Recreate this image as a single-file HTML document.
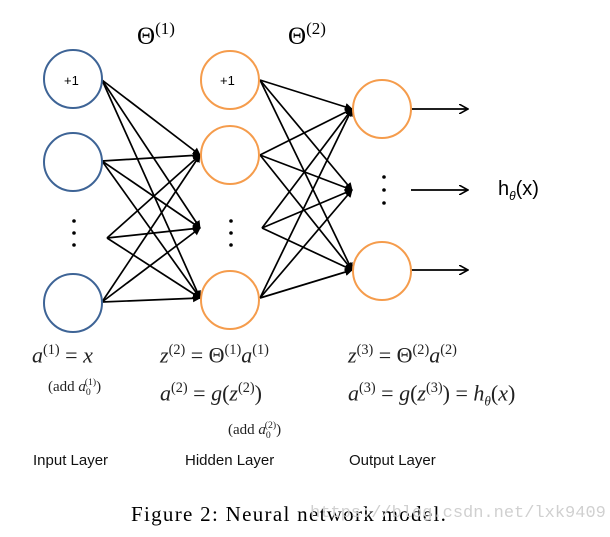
<!DOCTYPE html>
<html><head><style>
body{margin:0;background:#fff;width:610px;height:537px;overflow:hidden;position:relative;font-family:"Liberation Serif",serif}
.t{position:absolute;white-space:nowrap;color:#222}
.s{font-family:"Liberation Sans",sans-serif;font-size:15px;color:#111}
i{font-style:italic}
sup{font-size:65%}
</style></head><body>
<svg width="610" height="537" style="position:absolute;left:0;top:0">
<defs><marker id="a" markerWidth="8" markerHeight="8" refX="7" refY="4" orient="auto" markerUnits="userSpaceOnUse"><path d="M0,0 L8,4 L0,8 z" fill="#000"/></marker>
<marker id="b" markerWidth="10" markerHeight="10" refX="9" refY="5" orient="auto" markerUnits="userSpaceOnUse"><path d="M0,0 L9,5 L0,10" fill="none" stroke="#000" stroke-width="1.6"/></marker></defs>
<g stroke="#000" stroke-width="1.7" marker-end="url(#a)">
<line x1="102" y1="80" x2="200" y2="155"/><line x1="102" y1="80" x2="200" y2="228"/><line x1="102" y1="80" x2="200" y2="298"/>
<line x1="102" y1="161" x2="200" y2="155"/><line x1="102" y1="161" x2="200" y2="228"/><line x1="102" y1="161" x2="200" y2="298"/>
<line x1="107" y1="238" x2="200" y2="155"/><line x1="107" y1="238" x2="200" y2="228"/><line x1="107" y1="238" x2="200" y2="298"/>
<line x1="102" y1="302" x2="200" y2="155"/><line x1="102" y1="302" x2="200" y2="228"/><line x1="102" y1="302" x2="200" y2="298"/>
<line x1="260" y1="80" x2="352" y2="109"/><line x1="260" y1="80" x2="352" y2="190"/><line x1="260" y1="80" x2="352" y2="270"/>
<line x1="260" y1="155" x2="352" y2="109"/><line x1="260" y1="155" x2="352" y2="190"/><line x1="260" y1="155" x2="352" y2="270"/>
<line x1="262" y1="228" x2="352" y2="109"/><line x1="262" y1="228" x2="352" y2="190"/><line x1="262" y1="228" x2="352" y2="270"/>
<line x1="260" y1="298" x2="352" y2="109"/><line x1="260" y1="298" x2="352" y2="190"/><line x1="260" y1="298" x2="352" y2="270"/>
</g>
<g stroke="#000" stroke-width="1.7" marker-end="url(#b)">
<line x1="411" y1="109" x2="468" y2="109"/><line x1="411" y1="190" x2="468" y2="190"/><line x1="411" y1="270" x2="468" y2="270"/>
</g>
<g fill="none" stroke-width="2">
<circle cx="73" cy="79" r="29" stroke="#3e6496"/><circle cx="73" cy="162" r="29" stroke="#3e6496"/><circle cx="73" cy="303" r="29" stroke="#3e6496"/>
<circle cx="230" cy="80" r="29" stroke="#f59c4c" fill="#fff"/><circle cx="230" cy="155" r="29" stroke="#f59c4c"/><circle cx="230" cy="300" r="29" stroke="#f59c4c"/>
<circle cx="382" cy="109" r="29" stroke="#f59c4c"/><circle cx="382" cy="271" r="29" stroke="#f59c4c"/>
</g>
<g fill="#000">
<circle cx="74" cy="221" r="1.8"/><circle cx="74" cy="233" r="1.8"/><circle cx="74" cy="245" r="1.8"/>
<circle cx="231" cy="221" r="1.8"/><circle cx="231" cy="233" r="1.8"/><circle cx="231" cy="245" r="1.8"/>
<circle cx="384" cy="177" r="1.8"/><circle cx="384" cy="190" r="1.8"/><circle cx="384" cy="203" r="1.8"/>
</g>
<text x="64" y="85" font-family="Liberation Sans" font-size="13">+1</text>
<text x="220" y="85" font-family="Liberation Sans" font-size="13">+1</text>
<text x="498" y="195" font-family="Liberation Sans" font-size="20">h<tspan font-size="12" dy="5" font-style="italic">θ</tspan><tspan dy="-5">(x)</tspan></text>
<text x="137" y="44" font-family="Liberation Serif" font-size="25">Θ<tspan font-size="17" dy="-10">(1)</tspan></text>
<text x="288" y="44" font-family="Liberation Serif" font-size="25">Θ<tspan font-size="17" dy="-10">(2)</tspan></text>
</svg>
<div class="t" style="left:32px;top:342px;font-size:22px"><i>a</i><sup>(1)</sup> = <i>x</i></div>
<div class="t" style="left:48px;top:377px;font-size:15px">(add <i>a</i><sub style="font-size:65%">0</sub><sup style="font-size:65%;margin-left:-6px">(1)</sup>)</div>
<div class="t" style="left:160px;top:342px;font-size:22px"><i>z</i><sup>(2)</sup> = Θ<sup>(1)</sup><i>a</i><sup>(1)</sup></div>
<div class="t" style="left:160px;top:380px;font-size:22px"><i>a</i><sup>(2)</sup> = <i>g</i>(<i>z</i><sup>(2)</sup>)</div>
<div class="t" style="left:228px;top:420px;font-size:15px">(add <i>a</i><sub style="font-size:65%">0</sub><sup style="font-size:65%;margin-left:-6px">(2)</sup>)</div>
<div class="t" style="left:348px;top:342px;font-size:22px"><i>z</i><sup>(3)</sup> = Θ<sup>(2)</sup><i>a</i><sup>(2)</sup></div>
<div class="t" style="left:348px;top:380px;font-size:22px"><i>a</i><sup>(3)</sup> = <i>g</i>(<i>z</i><sup>(3)</sup>) = <i>h</i><sub style="font-size:60%"><i>θ</i></sub>(<i>x</i>)</div>
<div class="t s" style="left:33px;top:452px">Input Layer</div>
<div class="t s" style="left:185px;top:452px">Hidden Layer</div>
<div class="t s" style="left:349px;top:452px">Output Layer</div>
<div class="t" style="left:131px;top:502px;font-size:21px;letter-spacing:1.3px;color:#000">Figure 2: Neural network model.</div>
<div class="t" style="left:310px;top:504px;font-size:17px;color:#d0d0d0;font-family:'Liberation Mono',monospace">https://blog.csdn.net/lxk9409</div>
</body></html>
